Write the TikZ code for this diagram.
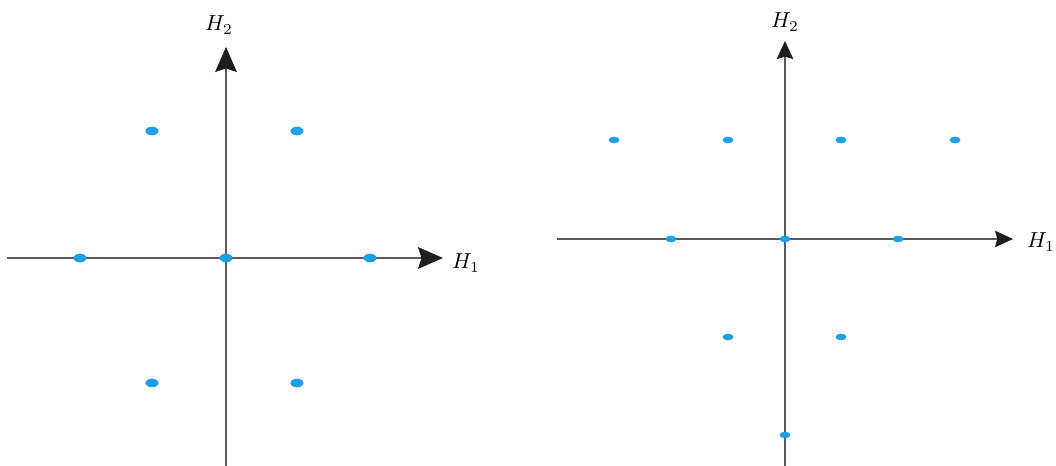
\documentclass[tikz,border=0pt]{standalone}
\usetikzlibrary{arrows.meta, shapes.geometric}
\definecolor{ptblue}{RGB}{30,160,232}
\definecolor{axgray}{RGB}{90,90,90}
\definecolor{tipdark}{RGB}{30,30,30}

\begin{document}
\begin{tikzpicture}[x=0.46pt, y=-0.46pt,
    axis/.style={draw=axgray, line width=0.5pt},
    bigtip/.style={-{Stealth[length=11.5pt, width=10pt, inset=1.6pt, color=tipdark]}},
    smalltip/.style={-{Stealth[length=8.3pt, width=7.6pt, inset=1.1pt, color=tipdark]}},
    bigpt/.style={ellipse, fill=ptblue, inner sep=0pt, minimum width=6pt, minimum height=4pt},
    smallpt/.style={ellipse, fill=ptblue, inner sep=0pt, minimum width=5pt, minimum height=3.1pt},
    lab/.style={inner sep=0pt, font=\normalsize}]

\useasboundingbox (0,0) rectangle (1056,466);

% ════════════════════════════════════════
%  LEFT: hexagonal constellation
% ════════════════════════════════════════

% Axes
\coordinate (l_xs) at (7,258);
\coordinate (l_xe) at (443,258);
\coordinate (l_ys) at (226,466);
\coordinate (l_ye) at (226,47);
\draw[axis, bigtip] (l_xs) -- (l_xe);
\draw[axis, bigtip] (l_ys) -- (l_ye);
\node[lab] (l_h1) at (466,263) {$H_1$};
\node[lab] (l_h2) at (219,25) {$H_2$};

% Points
\node[bigpt] (l_a) at (152,131) {};
\node[bigpt] (l_b) at (297,131) {};
\node[bigpt] (l_c) at (80,258) {};
\node[bigpt] (l_d) at (226,258) {};
\node[bigpt] (l_e) at (370,258) {};
\node[bigpt] (l_f) at (152,383) {};
\node[bigpt] (l_g) at (297,383) {};

% ════════════════════════════════════════
%  RIGHT: larger constellation
% ════════════════════════════════════════

% Axes
\coordinate (r_xs) at (557,239);
\coordinate (r_xe) at (1013,239);
\coordinate (r_ys) at (785,466);
\coordinate (r_ye) at (785,41);
\draw[axis, smalltip] (r_xs) -- (r_xe);
\draw[axis, smalltip] (r_ys) -- (r_ye);
\node[lab] (r_h1) at (1041,242) {$H_1$};
\node[lab] (r_h2) at (785,22) {$H_2$};

% Points
\node[smallpt] (r_a) at (614,140) {};
\node[smallpt] (r_b) at (728,140) {};
\node[smallpt] (r_c) at (841,140) {};
\node[smallpt] (r_d) at (955,140) {};
\node[smallpt] (r_e) at (671,239) {};
\node[smallpt] (r_f) at (785,239) {};
\node[smallpt] (r_g) at (898,239) {};
\node[smallpt] (r_h) at (728,337) {};
\node[smallpt] (r_i) at (841,337) {};
\node[smallpt] (r_j) at (785,435) {};

\end{tikzpicture}
\end{document}
